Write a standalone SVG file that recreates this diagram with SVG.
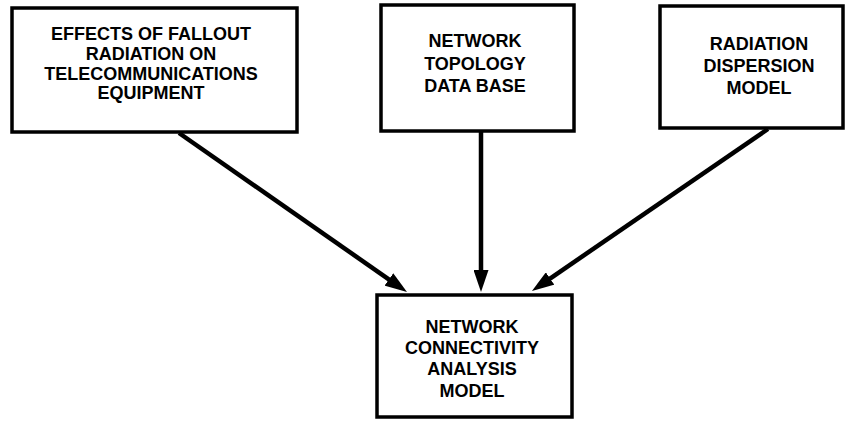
<svg xmlns="http://www.w3.org/2000/svg" width="846" height="421" viewBox="0 0 846 421">
<style>
.box{fill:#fff;stroke:#000;stroke-width:3.5}
.lbl{font-family:"Liberation Sans",Arial,sans-serif;font-weight:bold;font-size:18px;fill:#000;text-anchor:middle}
.conn{stroke:#000;stroke-width:4.5;fill:none;marker-end:url(#ah)}
</style>
<defs>
<marker id="ah" viewBox="0 0 22 15" refX="12" refY="7.5" markerWidth="22" markerHeight="15" markerUnits="userSpaceOnUse" orient="auto">
<path d="M0,0 L22,7.5 L0,15 z" fill="#000"/>
</marker>
</defs>
<rect width="846" height="421" fill="#fff"/>
<g id="connectors">
<line class="conn" x1="179" y1="133" x2="398.8" y2="286.3"/>
<line class="conn" x1="481" y1="132" x2="481" y2="282"/>
<line class="conn" x1="768" y1="129" x2="540.2" y2="285.3"/>
</g>
<g id="n-effects">
<rect class="box" x="12" y="8" width="285" height="124"/>
<text class="lbl" x="151" y="40">EFFECTS OF FALLOUT</text>
<text class="lbl" x="151" y="60">RADIATION ON</text>
<text class="lbl" x="151" y="80">TELECOMMUNICATIONS</text>
<text class="lbl" x="151" y="99">EQUIPMENT</text>
</g>
<g id="n-topology">
<rect class="box" x="381" y="5" width="193" height="126"/>
<text class="lbl" x="475" y="47">NETWORK</text>
<text class="lbl" x="475" y="69.5">TOPOLOGY</text>
<text class="lbl" x="475" y="92">DATA BASE</text>
</g>
<g id="n-dispersion">
<rect class="box" x="660" y="6" width="183" height="122"/>
<text class="lbl" x="759" y="50">RADIATION</text>
<text class="lbl" x="759" y="72">DISPERSION</text>
<text class="lbl" x="759" y="93.5">MODEL</text>
</g>
<g id="n-connectivity">
<rect class="box" x="377" y="295" width="195" height="122"/>
<text class="lbl" x="472" y="333">NETWORK</text>
<text class="lbl" x="472" y="353.5">CONNECTIVITY</text>
<text class="lbl" x="472" y="375">ANALYSIS</text>
<text class="lbl" x="472" y="396.5">MODEL</text>
</g>
</svg>
